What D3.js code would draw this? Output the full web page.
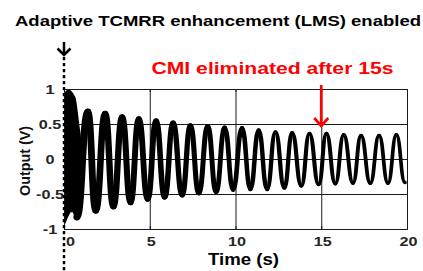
<!DOCTYPE html>
<html>
<head>
<meta charset="utf-8">
<script src="https://cdnjs.cloudflare.com/ajax/libs/d3/7.8.5/d3.min.js"></script>
<style>
body{margin:0;background:#fff;}
text{font-family:"Liberation Sans",Arial,sans-serif;font-weight:bold;}
</style>
</head>
<body>
<div id="chart"></div>
<script>
var xTicks = [0, 5, 10, 15, 20];
var yTicks = [-1, -0.5, 0, 0.5, 1];
var yTickLabels = ["-1", "-0.5", "0", "0.5", "1"];

// start-up burst: the fast oscillation fills the band between these envelopes
var burstT   = [0, 0.1, 0.2, 0.3, 0.4, 0.5, 0.6, 0.7, 0.8, 0.9, 1.0, 1.03];
var burstTop = [0.92, 0.97, 0.99, 0.99, 0.98, 0.95, 0.91, 0.85, 0.68, 0.48, 0.28, 0.15];
var burstBot = [-0.95, -0.91, -0.85, -0.8, -0.76, -0.76, -0.82, -0.85, -0.8, -0.55, -0.2, 0.0];

// slow oscillation, outer edge of the trace at each peak / trough
var peakT = [1.39, 2.40, 3.39, 4.36, 5.37, 6.36, 7.37, 8.38, 9.37, 10.38, 11.35, 12.33, 13.30, 14.31, 15.30, 16.31, 17.32, 18.37, 19.38];
var peakV = [0.72, 0.69, 0.64, 0.61, 0.58, 0.55, 0.51, 0.50, 0.48, 0.47, 0.44, 0.41, 0.40, 0.39, 0.39, 0.37, 0.36, 0.36, 0.37];
var troughT = [0.75, 1.85, 2.88, 3.88, 4.88, 5.87, 6.89, 7.86, 8.87, 9.86, 10.87, 11.84, 12.85, 13.84, 14.85, 15.82, 16.85, 17.86, 18.89, 19.88];
var troughV = [-0.88, -0.78, -0.72, -0.66, -0.61, -0.58, -0.55, -0.52, -0.50, -0.47, -0.46, -0.46, -0.44, -0.41, -0.39, -0.38, -0.37, -0.37, -0.37, -0.36];

// peak-to-peak of the fast ripple riding on the trace (gives the thickness)
var rippleT = [1, 4, 8, 12, 16, 20];
var rippleV = [0.1, 0.085, 0.072, 0.062, 0.057, 0.052];

function init(){
	var W = 423, H = 271;
	var m = {left: 64, right: 16, top: 89, bottom: 42};
	var w = W - m.left - m.right;
	var h = H - m.top - m.bottom;
	var sx = 1.2;   // text in the figure is drawn a bit wide

	var x = d3.scaleLinear().domain([0, 20]).range([0, w]);
	var y = d3.scaleLinear().domain([-1, 1]).range([h, 0]);
	var ripple = d3.scaleLinear().domain(rippleT).range(rippleV).clamp(true);

	var svg = d3.select("#chart").append("svg")
				.attr("width", W)
				.attr("height", H);

	var g = svg.append("g").attr("transform", "translate(" + m.left + "," + m.top + ")");

	//grid
	g.append("g").attr("transform", "translate(0," + h + ")")
		.call(d3.axisBottom(x).tickValues(xTicks).tickSize(-h).tickFormat(""))
		.call(function(s){ s.select(".domain").remove(); s.selectAll("line").attr("stroke", "#e1e1e1"); });
	g.append("g")
		.call(d3.axisLeft(y).tickValues(yTicks).tickSize(-w).tickFormat(""))
		.call(function(s){ s.select(".domain").remove(); s.selectAll("line").attr("stroke", "#e1e1e1"); });

	//trace
	g.append("clipPath").attr("id", "clip")
		.append("rect").attr("width", w).attr("height", h);
	var plot = g.append("g").attr("clip-path", "url(#clip)");

	var burst = burstT.map(function(t, i){ return {t: t, hi: burstTop[i], lo: burstBot[i]}; });
	plot.append("path")
		.datum(burst)
		.attr("fill", "#000")
		.attr("d", d3.area()
			.x(function(d){ return x(d.t); })
			.y0(function(d){ return y(d.lo); })
			.y1(function(d){ return y(d.hi); })
			.curve(d3.curveMonotoneX));

	var pts = peakT.map(function(t, i){ return {t: t, v: peakV[i], s: 1}; })
		.concat(troughT.map(function(t, i){ return {t: t, v: troughV[i], s: -1}; }))
		.sort(function(a, b){ return a.t - b.t; });
	pts.forEach(function(p){ p.c = p.v - p.s * ripple(p.t) / 2; });

	var line = d3.line()
		.x(function(d){ return x(d.t); })
		.y(function(d){ return y(d.c); })
		.curve(d3.curveBumpX);

	plot.selectAll("path.seg")
		.data(d3.pairs(pts))
		.enter()
		.append("path")
		.attr("class", "seg")
		.attr("fill", "none")
		.attr("stroke", "#000")
		.attr("stroke-linecap", "round")
		.attr("stroke-width", function(d){
			return y(0) - y(ripple((d[0].t + d[1].t) / 2));
		})
		.attr("d", function(d){ return line(d); });

	//inner ticks + box
	var tk = 3;
	g.append("g").attr("transform", "translate(0," + h + ")")
		.call(d3.axisBottom(x).tickValues(xTicks).tickSize(-tk).tickFormat(""));
	g.append("g")
		.call(d3.axisTop(x).tickValues(xTicks).tickSize(-tk).tickFormat(""));
	g.append("g")
		.call(d3.axisLeft(y).tickValues(yTicks).tickSize(-tk).tickFormat(""));
	g.append("g").attr("transform", "translate(" + w + ",0)")
		.call(d3.axisRight(y).tickValues(yTicks).tickSize(-tk).tickFormat(""));
	g.selectAll(".domain, .tick line").attr("stroke", "#1a1a1a");

	//tick labels
	var xl = g.append("g").attr("transform", "translate(0," + h + ")")
		.call(d3.axisBottom(x).tickValues(xTicks).tickSize(0).tickPadding(7));
	xl.select(".domain").remove();
	xl.selectAll("text")
		.attr("font-size", 13.5)
		.attr("fill", "#262626")
		.attr("x", function(d){ return d === 0 ? 6 / sx : 1 / sx; })
		.attr("transform", "scale(" + sx + ",1)");

	var yl = g.append("g")
		.call(d3.axisLeft(y).tickValues(yTicks).tickSize(0)
			.tickFormat(function(d, i){ return yTickLabels[i]; }));
	yl.select(".domain").remove();
	yl.selectAll("text")
		.attr("font-size", 13.5)
		.attr("fill", "#262626")
		.attr("text-anchor", "middle")
		.attr("x", -14 / sx)
		.attr("transform", "scale(" + sx + ",1)");

	//axis titles
	svg.append("text")
		.attr("x", 243.5).attr("y", 265)
		.attr("text-anchor", "middle")
		.attr("font-size", 16)
		.attr("textLength", 71).attr("lengthAdjust", "spacingAndGlyphs")
		.text("Time (s)");
	svg.append("text")
		.attr("transform", "translate(30,161) rotate(-90)")
		.attr("text-anchor", "middle")
		.attr("font-size", 14)
		.attr("fill", "#111")
		.attr("textLength", 70).attr("lengthAdjust", "spacingAndGlyphs")
		.text("Output (V)");

	//annotations
	svg.append("text")
		.attr("x", 218).attr("y", 26)
		.attr("text-anchor", "middle")
		.attr("font-size", 15.5)
		.attr("textLength", 406).attr("lengthAdjust", "spacingAndGlyphs")
		.text("Adaptive TCMRR enhancement (LMS) enabled");

	var x0 = m.left + x(0);
	svg.append("line")
		.attr("x1", x0).attr("x2", x0)
		.attr("y1", 57).attr("y2", H)
		.attr("stroke", "#000").attr("stroke-width", 2.5)
		.attr("stroke-dasharray", "3.3,2.7");
	svg.append("path")
		.attr("d", "M" + x0 + ",42V55M" + (x0 - 6.5) + ",48.5l6.5,6.5l6.5,-6.5")
		.attr("fill", "none").attr("stroke", "#000").attr("stroke-width", 2.5);

	svg.append("text")
		.attr("x", 272.5).attr("y", 74)
		.attr("text-anchor", "middle")
		.attr("font-size", 17)
		.attr("fill", "#ff0000")
		.attr("textLength", 242).attr("lengthAdjust", "spacingAndGlyphs")
		.text("CMI eliminated after 15s");

	var x15 = m.left + x(15);
	svg.append("path")
		.attr("d", "M" + x15 + ",85V126M" + (x15 - 7) + ",118l7,8l7,-8")
		.attr("fill", "none").attr("stroke", "#ff0000").attr("stroke-width", 2.7);
}

window.onload = init;
</script>
</body>
</html>
